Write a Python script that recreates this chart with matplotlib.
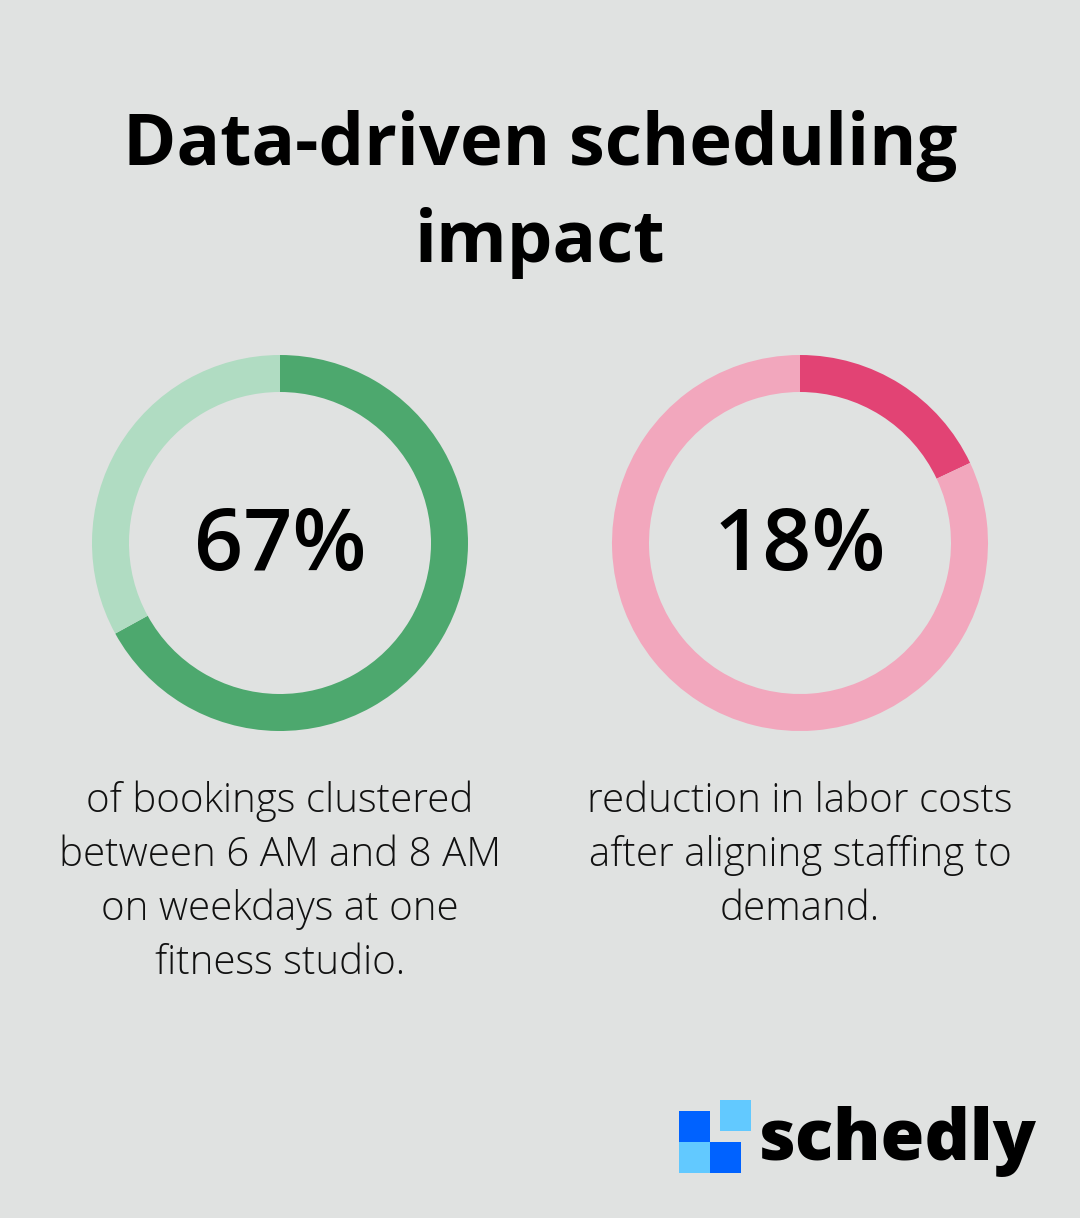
import matplotlib.pyplot as plt
from matplotlib.patches import Rectangle

W, H = 1080, 1218

title_lines = ["Data-driven scheduling", "impact"]
percents = [67, 18]
labels = ["67%", "18%"]
descriptions = [
    ["of bookings clustered", "between 6 AM and 8 AM", "on weekdays at one", "fitness studio."],
    ["reduction in labor costs", "after aligning staffing to", "demand."],
]
dark_colors = ["#4da86e", "#e24374"]
light_colors = ["#b0dcc2", "#f2a7bd"]
centers_x = [280, 800]

bg = "#e0e2e1"

fig = plt.figure(figsize=(W / 100, H / 100), dpi=100, facecolor=bg)
ax = fig.add_axes([0, 0, 1, 1])
ax.set_facecolor(bg)

# titre
for i, line in enumerate(title_lines):
    ax.text(540, H - (165 + 97 * i), line, ha="center", va="baseline",
            fontsize=52, fontweight="bold", family=["Open Sans", "DejaVu Sans"], color="black")

# anneaux
for k in range(2):
    ax.pie([percents[k], 100 - percents[k]], colors=[dark_colors[k], light_colors[k]],
           center=(centers_x[k], H - 543), radius=188, startangle=90, counterclock=False,
           wedgeprops=dict(width=37, linewidth=0))
    ax.text(centers_x[k], H - 570, labels[k], ha="center", va="baseline",
            fontsize=62, fontweight="semibold", family=["Open Sans", "DejaVu Sans"], color="black")
    for j, line in enumerate(descriptions[k]):
        ax.text(centers_x[k], H - (812 + 54 * j), line, ha="center", va="baseline",
                fontsize=29, fontweight="light", family=["Open Sans", "DejaVu Sans"], color="#111111")

# logo
squares = [(679, 1111, "#0062ff"), (720, 1100, "#62c9ff"), (679, 1142, "#62c9ff"), (710, 1142, "#0062ff")]
for x, y, c in squares:
    ax.add_patch(Rectangle((x, H - y - 31), 31, 31, color=c, linewidth=0))
ax.text(758, H - 1160, "schedly", ha="left", va="baseline", fontsize=51,
        fontweight="heavy", family=["Open Sans", "DejaVu Sans"], color="black")

ax.set_xlim(0, W)
ax.set_ylim(0, H)
ax.set_aspect("auto")
ax.axis("off")

fig.savefig("out.png", dpi=100, facecolor=bg)
